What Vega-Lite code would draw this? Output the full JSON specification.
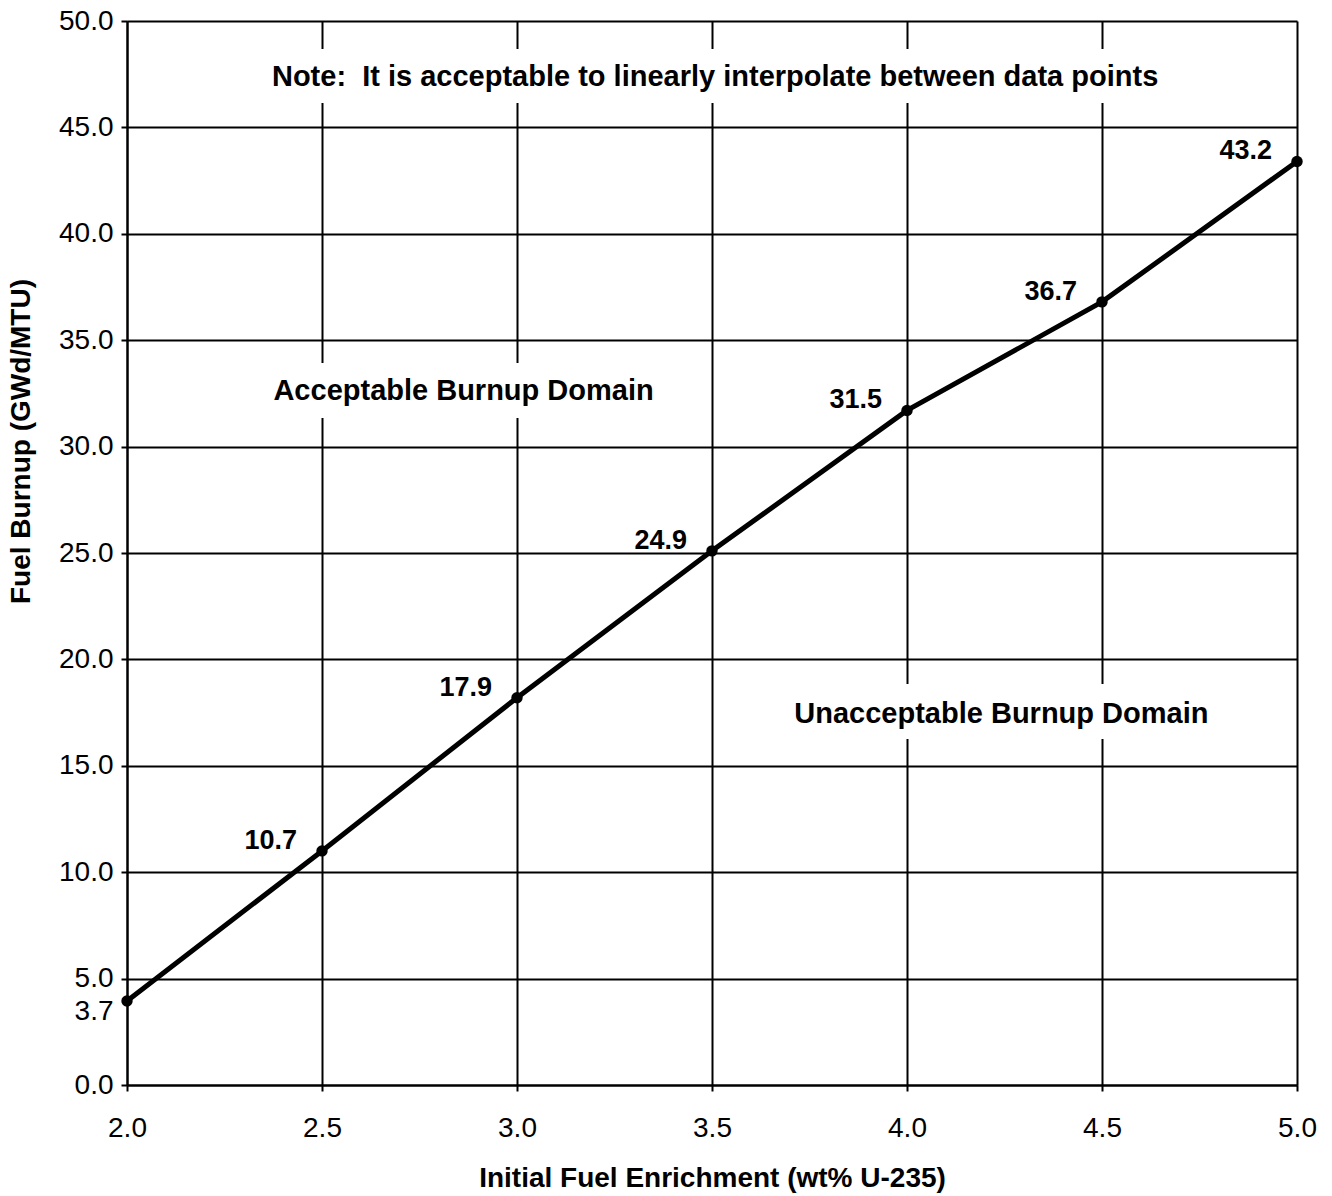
{
  "$schema": "https://vega.github.io/schema/vega-lite/v6.json",
  "width": 1170,
  "height": 1064,
  "autosize": {"type": "none"},
  "padding": {"left": 127, "top": 21, "right": 35, "bottom": 111},
  "background": "white",
  "config": {"view": {"stroke": null}, "font": "Liberation Sans"},
  "encoding": {
    "x": {
      "field": "x",
      "type": "quantitative",
      "scale": {"domain": [2, 5], "nice": false, "zero": false},
      "axis": {
        "title": "Initial Fuel Enrichment (wt% U-235)",
        "values": [2, 2.5, 3, 3.5, 4, 4.5, 5],
        "format": ".1f",
        "labelFont": "Liberation Sans",
        "labelFontSize": 28,
        "labelColor": "black",
        "labelPadding": 23,
        "labelFlush": false,
        "labelOverlap": false,
        "titleFont": "Liberation Sans",
        "titleFontSize": 28,
        "titleFontWeight": "bold",
        "titleColor": "black",
        "titlePadding": 22,
        "domainColor": "black",
        "domainWidth": 2,
        "tickColor": "black",
        "tickWidth": 2,
        "tickSize": 6,
        "grid": true,
        "gridColor": "black",
        "gridWidth": 2,
        "gridOpacity": 1
      }
    },
    "y": {
      "field": "y",
      "type": "quantitative",
      "scale": {"domain": [0, 50], "nice": false, "zero": false},
      "axis": {
        "title": "Fuel Burnup (GWd/MTU)",
        "titleY": 420,
        "values": [0, 3.7, 5, 10, 15, 20, 25, 30, 35, 40, 45, 50],
        "format": ".1f",
        "labelFont": "Liberation Sans",
        "labelFontSize": 28,
        "labelColor": "black",
        "labelPadding": 8,
        "labelOffset": {"condition": {"test": "datum.value === 3.7", "value": 5}, "value": 0},
        "labelFlush": false,
        "labelOverlap": false,
        "titleFont": "Liberation Sans",
        "titleFontSize": 28,
        "titleFontWeight": "bold",
        "titleColor": "black",
        "titlePadding": 23,
        "domainColor": "black",
        "domainWidth": 2,
        "tickColor": "black",
        "tickWidth": 2,
        "tickSize": 6,
        "tickOpacity": {"condition": {"test": "datum.value === 3.7", "value": 0}, "value": 1},
        "grid": true,
        "gridColor": "black",
        "gridWidth": 2,
        "gridOpacity": {"condition": {"test": "datum.value === 3.7", "value": 0}, "value": 1}
      }
    }
  },
  "layer": [
    {
      "data": {"values": [
        {"x": 2.35, "x2": 4.68, "y": 48.68, "y2": 46.15},
        {"x": 2.37, "x2": 3.36, "y": 33.93, "y2": 31.34},
        {"x": 3.70, "x2": 4.80, "y": 18.84, "y2": 16.26}
      ]},
      "mark": {"type": "rect", "fill": "white", "stroke": null},
      "encoding": {
        "x2": {"field": "x2"},
        "y2": {"field": "y2"}
      }
    },
    {
      "data": {"values": [
        {"x": 3.508, "y": 47.39, "text": "Note:\u00a0 It is acceptable to linearly interpolate between data points"},
        {"x": 2.863, "y": 32.61, "text": "Acceptable Burnup Domain"},
        {"x": 4.242, "y": 17.43, "text": "Unacceptable Burnup Domain"}
      ]},
      "mark": {"type": "text", "font": "Liberation Sans", "fontSize": 29, "fontWeight": "bold", "color": "black", "align": "center", "baseline": "middle"},
      "encoding": {"text": {"field": "text"}}
    },
    {
      "data": {"name": "burnup", "values": [
        {"x": 2.0, "y": 3.95, "label": "3.7"},
        {"x": 2.5, "y": 11.0, "label": "10.7"},
        {"x": 3.0, "y": 18.2, "label": "17.9"},
        {"x": 3.5, "y": 25.1, "label": "24.9"},
        {"x": 4.0, "y": 31.7, "label": "31.5"},
        {"x": 4.5, "y": 36.8, "label": "36.7"},
        {"x": 5.0, "y": 43.4, "label": "43.2"}
      ]},
      "layer": [
        {"mark": {"type": "line", "color": "black", "strokeWidth": 5}},
        {"mark": {"type": "circle", "color": "black", "opacity": 1, "size": 130}},
        {
          "transform": [{"filter": "datum.x > 2"}],
          "mark": {"type": "text", "font": "Liberation Sans", "fontSize": 27, "fontWeight": "bold", "color": "black", "align": "right", "baseline": "middle", "dx": -25, "dy": -10},
          "encoding": {"text": {"field": "label"}}
        }
      ]
    }
  ]
}
